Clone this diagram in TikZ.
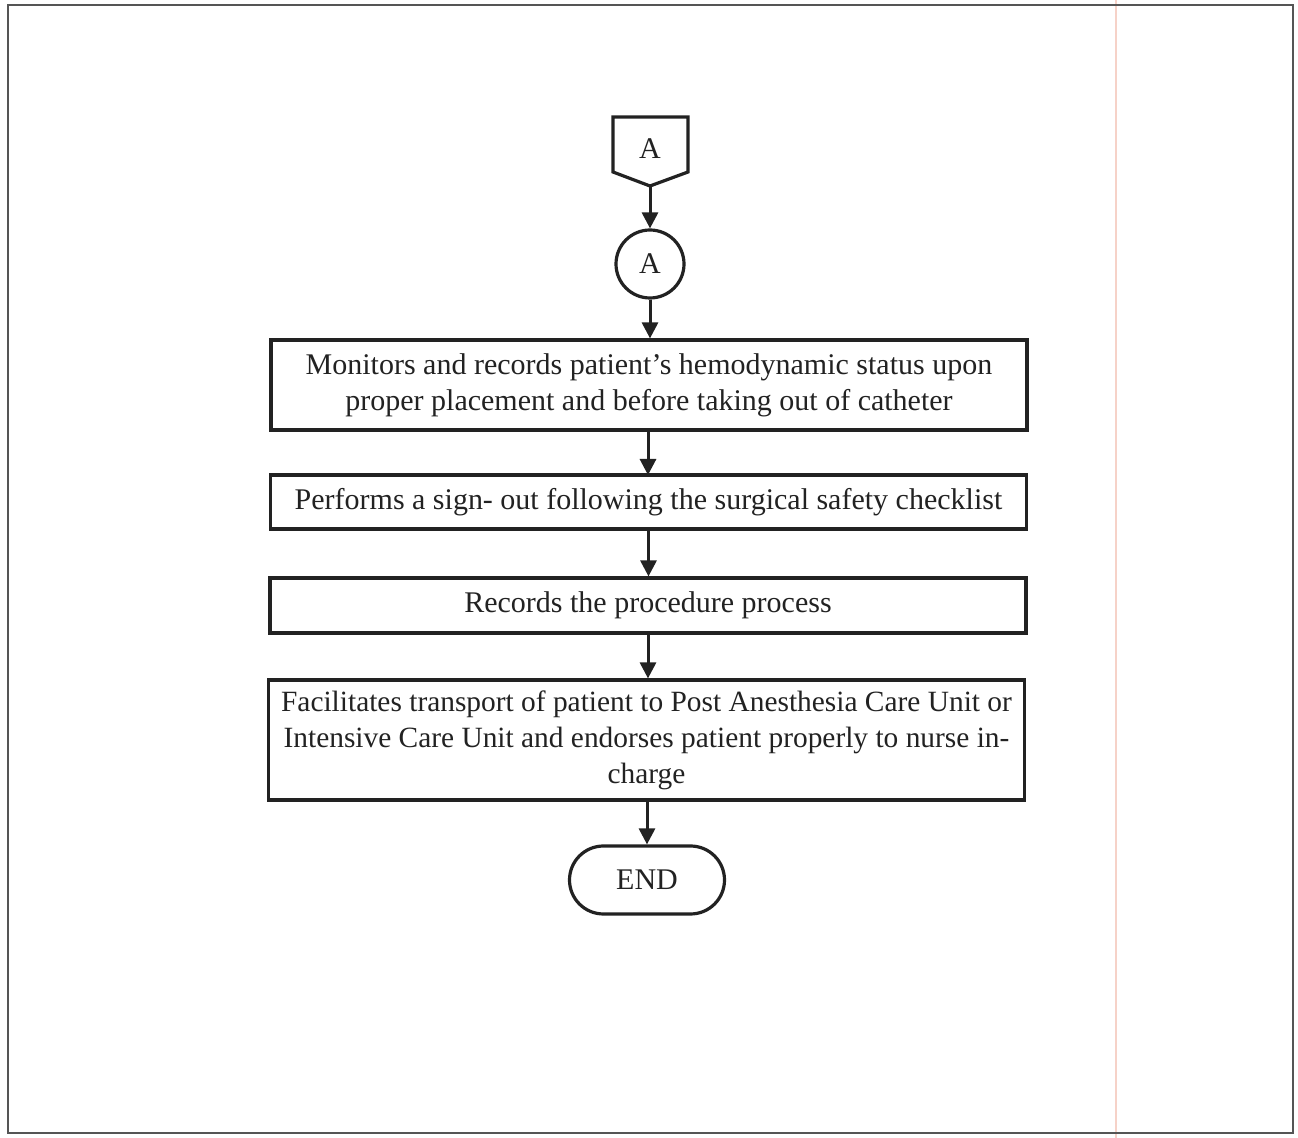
\documentclass[tikz,border=0pt]{standalone}
\usepackage{fontspec}
\setmainfont{Liberation Serif}
\usetikzlibrary{arrows.meta,shapes.misc}
\definecolor{ink}{HTML}{222222}
\definecolor{framegray}{HTML}{555555}
\definecolor{marginpink}{HTML}{F6D2C8}
\begin{document}
\begin{tikzpicture}[x=0.5pt,y=-0.5pt,
  txt/.style={font=\fontsize{15}{18}\selectfont, text=ink, align=center, inner sep=0pt},
  procbox/.style={draw=ink, line width=1.6pt, rectangle, minimum width=378pt, txt},
  flow/.style={draw=ink, line width=1.5pt, -{Triangle[length=8pt,width=8pt]}},
  shapeline/.style={draw=ink, line width=1.6pt}
]
\useasboundingbox (0,0) rectangle (1298,1138);
\fill[white] (0,0) rectangle (1298,1138);
% margin line and frame
\draw[marginpink, line width=0.8pt] (1116,0) -- (1116,1138);
\draw[framegray, line width=1pt] (8,5) rectangle (1293,1133);
% off-page connector
\draw[shapeline, line join=miter] (613,117) -- (688,117) -- (688,172) -- (650,186) -- (613,172) -- cycle;
\node[txt] (offA) at (650,149) {A};
\coordinate (offTip) at (650,186);
% on-page connector
\node[shapeline, circle, minimum size=34pt, txt] (onA) at (650,264) {A};
% process boxes
\node[procbox, minimum height=45pt] (b1) at (649,385) {Monitors and records patient’s hemodynamic status upon\\proper placement and before taking out of catheter};
\node[procbox, minimum height=27pt] (b2) at (648.5,502) {Performs a sign- out following the surgical safety checklist};
\node[procbox, minimum height=27.5pt] (b3) at (648,605.5) {Records the procedure process};
\node[procbox, minimum height=60pt, font=\fontsize{14.7}{18}\selectfont] (b4) at (646.5,740) {Facilitates transport of patient to Post Anesthesia Care Unit or\\Intensive Care Unit and endorses patient properly to nurse in-\\charge};
\node[shapeline, rounded rectangle, minimum width=77.5pt, minimum height=34pt, txt] (endn) at (647,880) {END};
% connectors
\draw[flow] (offTip) -- (onA.north);
\draw[flow] (onA.south) -- (onA.south |- b1.north);
\draw[flow] (648,430) -- (648,475);
\draw[flow] (b2.south) -- (b2.south |- b3.north);
\draw[flow] (b3.south) -- (b3.south |- b4.north);
\draw[flow] (b4.south) -- (b4.south -| endn.north) -- (endn.north);
\end{tikzpicture}
\end{document}
